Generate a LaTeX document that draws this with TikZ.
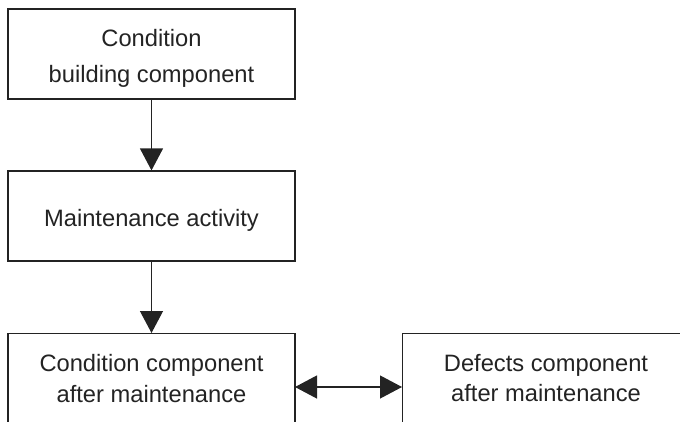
\documentclass[tikz,border=0pt]{standalone}
\usepackage{fontspec}
\setmainfont{Liberation Sans}
\usetikzlibrary{arrows.meta}
\definecolor{ink}{RGB}{35,35,35}
\begin{document}
\begin{tikzpicture}[x=1pt,y=-1pt,
  box/.style={draw=ink,line width=1.2pt,rectangle,inner sep=0pt},
  lbl/.style={text=ink,align=center,inner sep=0pt},
  conn/.style={draw=ink,line width=1.2pt,-{Triangle[width=23pt,length=22pt]}},
  conn2/.style={draw=ink,line width=1.2pt,{Triangle[width=23pt,length=22pt]}-{Triangle[width=23pt,length=22pt]}}]
\useasboundingbox (0,0) rectangle (680,421);
\clip (0,0) rectangle (680,421);
\fontsize{23.7}{36}\selectfont
\node[box,minimum width=287pt,minimum height=90pt] (b1) at (151.5,54) {};
\node[box,minimum width=287pt,minimum height=90pt] (b2) at (151.5,216) {};
\node[box,anchor=north,minimum width=287pt,minimum height=120pt] (b3) at (151.5,333) {};
\node[box,anchor=north west,minimum width=320pt,minimum height=120pt] (b4) at (402,333) {};
\node[lbl,font=\fontsize{23.7}{36}\selectfont] (t1) at (151.5,57.9) {Condition\\building component};
\node[lbl,font=\fontsize{23.7}{36}\selectfont] (t2) at (151.5,220.6) {Maintenance activity};
\node[lbl,font=\fontsize{23.7}{30.5}\selectfont] (t3) at (151.5,378.4) {Condition component\\after maintenance};
\node[lbl,font=\fontsize{23.7}{30.5}\selectfont] (t4) at (546,377.9) {Defects component\\after maintenance};
\coordinate (r3) at (295,387);
\coordinate (l4) at (402,387);
\draw[conn] (b1.south) -- (b2.north);
\draw[conn] (b2.south) -- (b3.north);
\draw[conn2] (r3) -- (l4);
\end{tikzpicture}
\end{document}
